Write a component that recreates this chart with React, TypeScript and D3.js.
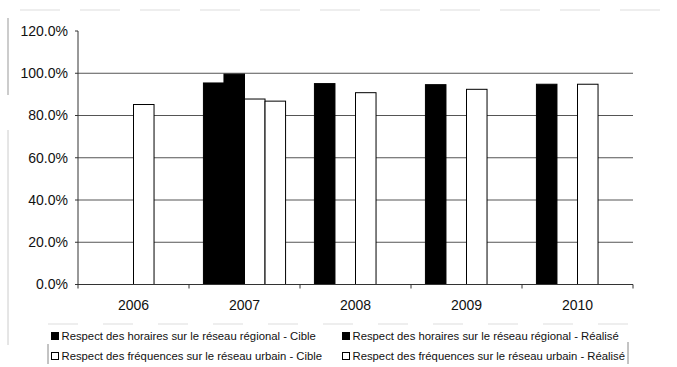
import React from "react";
import * as d3 from "d3";

const years = ["2006", "2007", "2008", "2009", "2010"];
const horairesCible = [0, 95.4, 95.1, 94.6, 94.8];
const horairesRealise = [0, 99.6, 0, 0, 0];
const frequencesCible = [85.2, 87.8, 90.8, 92.4, 94.8];
const frequencesRealise = [0, 86.8, 0, 0, 0];
const yTicks = [0, 20, 40, 60, 80, 100, 120];

const seriesNames = [
  "Respect des horaires sur le réseau régional - Cible",
  "Respect des horaires sur le réseau régional - Réalisé",
  "Respect des fréquences sur le réseau urbain - Cible",
  "Respect des fréquences sur le réseau urbain - Réalisé",
];
const seriesValues = [horairesCible, horairesRealise, frequencesCible, frequencesRealise];
const seriesFill = ["#000", "#000", "#fff", "#fff"];

const W = 677;
const H = 367;
const m = { left: 78, right: 633, top: 31, bottom: 284.5 };
const font = "'Liberation Sans', Arial, sans-serif";

export default function App() {
  const x = d3.scaleBand().domain(years).range([m.left, m.right]).paddingInner(0.26).paddingOuter(0.13);
  const xOuter = d3.scaleBand().domain(years).range([m.left, m.right]);
  const y = d3.scaleLinear().domain([0, 120]).range([m.bottom, m.top]);
  const xs = d3.scaleBand().domain(d3.range(4).map(String)).range([0, x.bandwidth()]);
  const fmt = (v: number) => d3.format(".1f")(v) + "%";

  return (
    <svg width={W} height={H} style={{ position: "absolute", left: 0, top: 0, background: "#fff" }}>
      {/* chart frame edge */}
      <line x1={8} x2={8} y1={18} y2={95} stroke="#bbb" strokeWidth={1.5} />
      <line x1={8} x2={8} y1={130} y2={345} stroke="#ccc" strokeWidth={1} />
      <line x1={20} x2={660} y1={10} y2={10} stroke="#ddd" strokeWidth={1} strokeDasharray="40 20" />

      {/* gridlines */}
      {yTicks.filter((t) => t > 0 && t < 120).map((t) => (
        <line key={t} x1={m.left} x2={m.right} y1={y(t)} y2={y(t)} stroke="#555" strokeWidth={1} />
      ))}

      {/* y axis */}
      <line x1={m.left} x2={m.left} y1={m.top} y2={m.bottom} stroke="#333" />
      {yTicks.map((t) => (
        <g key={t}>
          <line x1={m.left - 3} x2={m.left} y1={y(t)} y2={y(t)} stroke="#333" />
          <text x={68} y={y(t)} dy="0.35em" textAnchor="end" fontFamily={font} fontSize={14} fill="#111">
            {fmt(t)}
          </text>
        </g>
      ))}

      {/* bars */}
      {seriesValues.map((vals, si) =>
        vals.map((v, i) =>
          v > 0 ? (
            <rect
              key={`${si}-${i}`}
              x={(x(years[i]) as number) + (xs(String(si)) as number)}
              y={y(v)}
              width={xs.bandwidth()}
              height={y(0) - y(v)}
              fill={seriesFill[si]}
              stroke="#000"
              strokeWidth={1}
            />
          ) : null
        )
      )}

      {/* x axis */}
      <line x1={m.left} x2={m.right} y1={m.bottom} y2={m.bottom} stroke="#333" />
      {years.map((yr) => (
        <line key={yr} x1={(xOuter(yr) as number) + xOuter.bandwidth()} x2={(xOuter(yr) as number) + xOuter.bandwidth()} y1={m.bottom} y2={m.bottom + 4} stroke="#333" />
      ))}
      <line x1={m.left} x2={m.left} y1={m.bottom} y2={m.bottom + 4} stroke="#333" />
      {years.map((yr) => (
        <text key={yr} x={(xOuter(yr) as number) + xOuter.bandwidth() / 2} y={310} textAnchor="middle" fontFamily={font} fontSize={14} fill="#111">
          {yr}
        </text>
      ))}

      {/* legend */}
      <line x1={48} x2={632} y1={324} y2={324} stroke="#ddd" strokeDasharray="30 25" />
      <line x1={48} x2={48} y1={344} y2={364} stroke="#888" />
      <line x1={628} x2={628} y1={342} y2={364} stroke="#888" />
      {seriesNames.map((name, i) => {
        const col = i % 2;
        const row = Math.floor(i / 2);
        const lx = col === 0 ? 51 : 342;
        const ly = 336 + row * 20;
        return (
          <g key={name}>
            <rect x={lx + 0.5} y={ly - 3.5} width={7} height={7} fill={seriesFill[i]} stroke="#000" strokeWidth={1} />
            <text x={lx + 10.5} y={ly} dy="0.35em" fontFamily={font} fontSize={11.3} fill="#111">
              {name}
            </text>
          </g>
        );
      })}
    </svg>
  );
}
